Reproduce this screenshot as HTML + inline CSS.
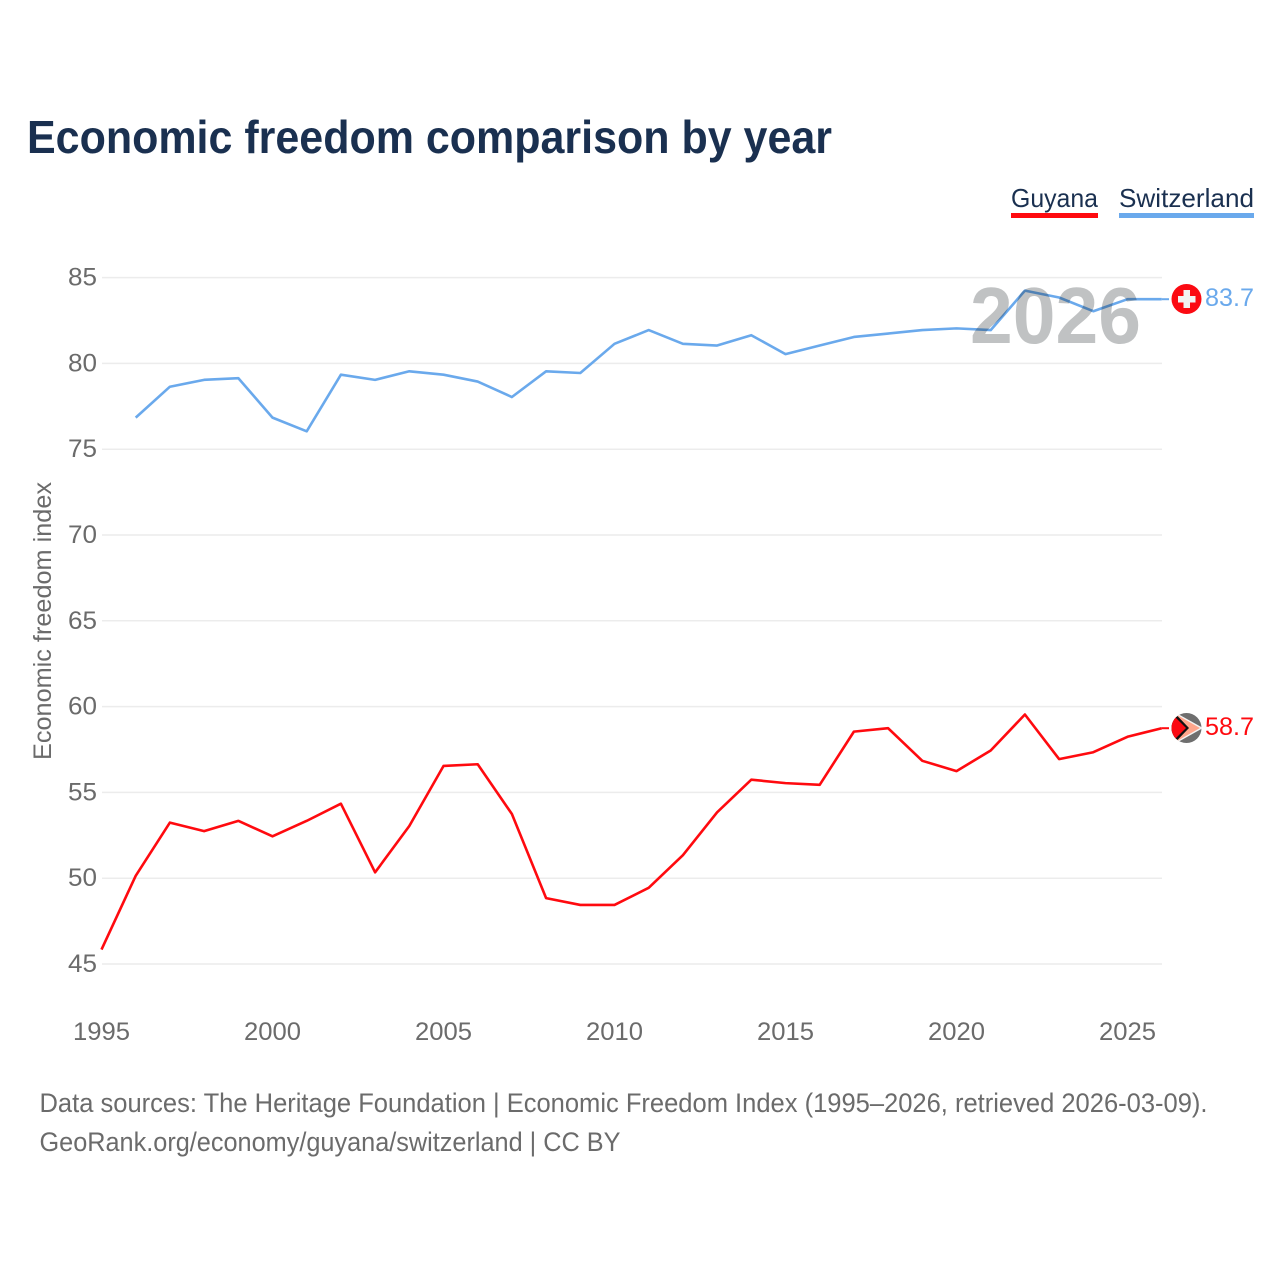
<!DOCTYPE html>
<html>
<head>
<meta charset="utf-8">
<title>Economic freedom comparison by year</title>
<style>
html,body{margin:0;padding:0;background:#fff;width:1280px;height:1280px;overflow:hidden}
svg{display:block}
text{font-family:"Liberation Sans",sans-serif}
</style>
</head>
<body>
<svg id="chart" width="1280" height="1280" viewBox="0 0 1280 1280" xmlns="http://www.w3.org/2000/svg">
  <defs>
    <clipPath id="guyana-clip"><circle cx="1186.5" cy="728" r="15"/></clipPath>
  </defs>
  <text x="27" y="153" font-size="46" font-weight="700" fill="#1a3050" textLength="805" lengthAdjust="spacingAndGlyphs">Economic freedom comparison by year</text>

  <g>
    <g>
      <text x="1011" y="207" font-size="26" fill="#1a3050" textLength="87" lengthAdjust="spacingAndGlyphs">Guyana</text>
      <rect x="1011" y="213" width="87" height="5" fill="#ff0a0f"/>
    </g>
    <g>
      <text x="1119" y="207" font-size="26" fill="#1a3050" textLength="135" lengthAdjust="spacingAndGlyphs">Switzerland</text>
      <rect x="1119" y="213" width="135" height="5" fill="#6aa9ec"/>
    </g>
  </g>

  <g id="grid"></g>
  <g id="yticks"></g>
  <g id="xticks"></g>
  <text transform="translate(51,621) rotate(-90)" text-anchor="middle" font-size="25" fill="#6b6b6b" textLength="278" lengthAdjust="spacingAndGlyphs">Economic freedom index</text>

  <g id="series"></g>

  <text x="970" y="343" font-size="80" font-weight="700" fill="#0a1218" fill-opacity="0.26" textLength="171" lengthAdjust="spacingAndGlyphs">2026</text>

  <g>
    <circle cx="1186.5" cy="299" r="15" fill="#fb0a12"/>
    <rect x="1183.5" y="290" width="6.5" height="18" fill="#f2f2f2"/>
    <rect x="1178" y="296" width="17.5" height="6.5" fill="#f2f2f2"/>
  </g>
  <g clip-path="url(#guyana-clip)">
    <rect x="1171" y="712" width="31" height="32" fill="#6e6e6e"/>
    <polygon points="1170,714 1178,714 1203,728 1178,742 1170,742" fill="#f4f4f4"/>
    <polygon points="1170,715.5 1178,715.5 1200,728 1178,740.5 1170,740.5" fill="#ffa68c"/>
    <polygon points="1170,715.5 1177,715.5 1189,728 1177,740.5 1170,740.5" fill="#111"/>
    <polygon points="1170,717.5 1175.5,717.5 1186,728 1175.5,738.5 1170,738.5" fill="#fb0a12"/>
  </g>
  <text id="label-switzerland" x="1205" y="306" font-size="25" fill="#6aa9ec" textLength="49" lengthAdjust="spacingAndGlyphs"></text>
  <text id="label-guyana" x="1205" y="735" font-size="25" fill="#ff0a0f" textLength="49" lengthAdjust="spacingAndGlyphs"></text>

  <g>
    <text x="39.5" y="1112" font-size="27" fill="#6b6b6b" textLength="1168" lengthAdjust="spacingAndGlyphs">Data sources: The Heritage Foundation | Economic Freedom Index (1995–2026, retrieved 2026-03-09).</text>
    <text x="39.5" y="1151" font-size="27" fill="#6b6b6b" textLength="581" lengthAdjust="spacingAndGlyphs">GeoRank.org/economy/guyana/switzerland | CC BY</text>
  </g>
</svg>
<script>
const years = [1995,1996,1997,1998,1999,2000,2001,2002,2003,2004,2005,2006,2007,2008,2009,2010,2011,2012,2013,2014,2015,2016,2017,2018,2019,2020,2021,2022,2023,2024,2025,2026];
const guyanaValues = [45.8,50.1,53.2,52.7,53.3,52.4,53.3,54.3,50.3,53.0,56.5,56.6,53.7,48.8,48.4,48.4,49.4,51.3,53.8,55.7,55.5,55.4,58.5,58.7,56.8,56.2,57.4,59.5,56.9,57.3,58.2,58.7];
const switzerlandValues = [null,76.8,78.6,79.0,79.1,76.8,76.0,79.3,79.0,79.5,79.3,78.9,78.0,79.5,79.4,81.1,81.9,81.1,81.0,81.6,80.5,81.0,81.5,81.7,81.9,82.0,81.9,84.2,83.8,83.0,83.7,83.7];
const yTickValues = [45,50,55,60,65,70,75,80,85];
const xTickValues = [1995,2000,2005,2010,2015,2020,2025];

const NS = 'http://www.w3.org/2000/svg';
function xScale(year) { return 101.5 + (year - 1995) * 34.2; }
function yScale(value) { return 964 - (value - 45) * 17.16; }
function make(tag, attrs) {
  const el = document.createElementNS(NS, tag);
  for (const k in attrs) el.setAttribute(k, attrs[k]);
  return el;
}

const grid = document.getElementById('grid');
const yticks = document.getElementById('yticks');
yTickValues.forEach(function (v) {
  const line = make('line', {x1: 102, x2: 1162, y1: yScale(v), y2: yScale(v), stroke: '#ececec', 'stroke-width': 1.5});
  
  
  grid.appendChild(line);
  const t = make('text', {x: 97, y: yScale(v) + 8, 'text-anchor': 'end', 'font-size': 25, fill: '#6b6b6b', textLength: 29, lengthAdjust: 'spacingAndGlyphs'});
  
  
  t.textContent = v;
  yticks.appendChild(t);
});

const xticks = document.getElementById('xticks');
xTickValues.forEach(function (y) {
  const t = make('text', {x: xScale(y), y: 1040, 'text-anchor': 'middle', 'font-size': 25, fill: '#6b6b6b', textLength: 57, lengthAdjust: 'spacingAndGlyphs'});
  
  
  t.textContent = y;
  xticks.appendChild(t);
});

function linePoints(values) {
  const pts = [];
  values.forEach(function (v, i) {
    if (v !== null) pts.push(xScale(years[i]).toFixed(2) + ',' + (yScale(v) - 0.7).toFixed(2));
  });
  return pts.join(' ');
}
const series = document.getElementById('series');

const switzerlandLine = make('polyline', {points: linePoints(switzerlandValues), fill: 'none', stroke: '#6aa9ec', 'stroke-width': 2.6, 'stroke-linejoin': 'round'});


series.appendChild(switzerlandLine);

const guyanaLine = make('polyline', {points: linePoints(guyanaValues), fill: 'none', stroke: '#ff0a0f', 'stroke-width': 2.6, 'stroke-linejoin': 'round'});


series.appendChild(guyanaLine);

const lastIndex = years.length - 1;
const switzerlandConnector = make('line', {x1: xScale(years[lastIndex]), x2: 1169, y1: yScale(switzerlandValues[lastIndex]) - 0.7, y2: yScale(switzerlandValues[lastIndex]) - 0.7, stroke: '#6aa9ec', 'stroke-width': 2});


series.appendChild(switzerlandConnector);

const guyanaConnector = make('line', {x1: xScale(years[lastIndex]), x2: 1169, y1: yScale(guyanaValues[lastIndex]) - 0.7, y2: yScale(guyanaValues[lastIndex]) - 0.7, stroke: '#ff0a0f', 'stroke-width': 2});


series.appendChild(guyanaConnector);

document.getElementById('label-switzerland').textContent = switzerlandValues[lastIndex].toFixed(1);
document.getElementById('label-guyana').textContent = guyanaValues[lastIndex].toFixed(1);
</script>
</body>
</html>
